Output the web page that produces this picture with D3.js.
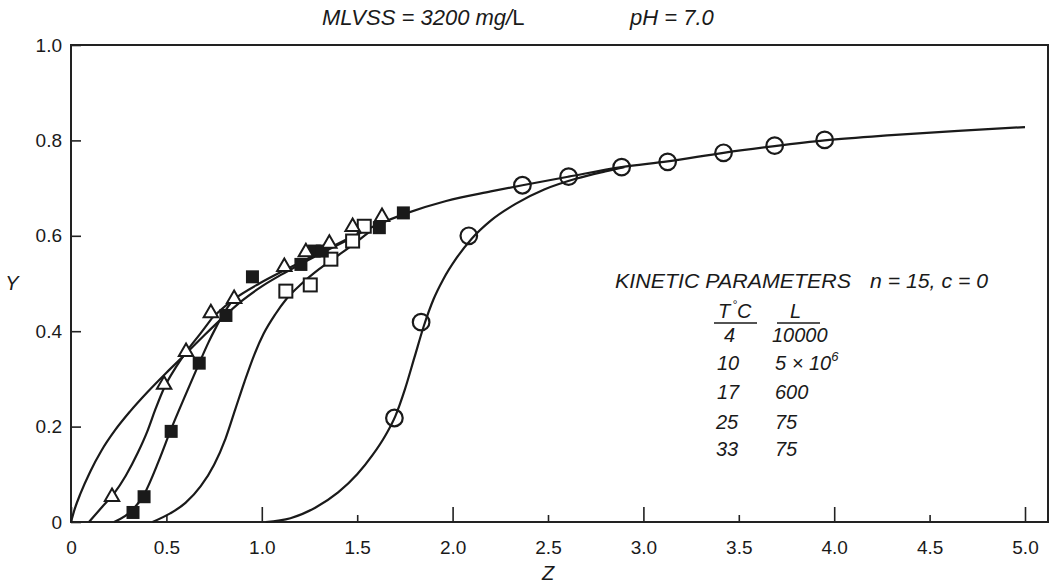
<!DOCTYPE html>
<html><head><meta charset="utf-8">
<script src="https://cdn.jsdelivr.net/npm/d3@7"></script>
<style>
body{margin:0;background:#fff}
svg{display:block;font-family:"Liberation Sans",Arial,Helvetica,sans-serif}
</style>
</head><body>
<svg id="c" width="1056" height="584"></svg>
<script>
// ---- data ----
const xTickValues = [0, 0.5, 1.0, 1.5, 2.0, 2.5, 3.0, 3.5, 4.0, 4.5, 5.0];
const xTickLabels = ["0", "0.5", "1.0", "1.5", "2.0", "2.5", "3.0", "3.5", "4.0", "4.5", "5.0"];
const yTickValues = [0, 0.2, 0.4, 0.6, 0.8, 1.0];
const yTickLabels = ["0", "0.2", "0.4", "0.6", "0.8", "1.0"];

// measured points [Z, Y]
const circles = [[1.695,0.218],[1.835,0.419],[2.085,0.600],[2.366,0.706],[2.608,0.724],[2.886,0.744],[3.127,0.755],[3.420,0.774],[3.688,0.789],[3.950,0.801]];
const openSquares = [[1.126,0.484],[1.254,0.497],[1.362,0.551],[1.476,0.589],[1.537,0.620]];
const filledSquares = [[0.325,0.020],[0.383,0.053],[0.525,0.190],[0.672,0.333],[0.812,0.433],[0.951,0.514],[1.205,0.540],[1.275,0.568],[1.317,0.568],[1.616,0.617],[1.742,0.648]];
const triangles = [[0.215,0.055],[0.488,0.290],[0.603,0.359],[0.733,0.440],[0.855,0.470],[1.118,0.537],[1.231,0.568],[1.354,0.586],[1.476,0.621],[1.630,0.642]];

// fitted curves [Z, Y]
const curveUpper = [[0.74,0.428],[0.85,0.466],[0.987,0.500],[1.10,0.524],[1.196,0.543],[1.33,0.570],[1.459,0.595],[1.60,0.622],[1.756,0.647],[1.966,0.673],[2.20,0.693],[2.366,0.706],[2.608,0.724],[2.886,0.744],[3.127,0.756],[3.420,0.774],[3.688,0.788],[3.950,0.800],[4.30,0.811],[4.65,0.820],[5.00,0.828]];
const curveA = [[0,0],[0.02,0.028],[0.05,0.060],[0.10,0.105],[0.16,0.150],[0.23,0.192],[0.31,0.232],[0.40,0.272],[0.50,0.313],[0.60,0.352],[0.70,0.392],[0.80,0.430],[0.90,0.465],[1.00,0.494],[1.10,0.518],[1.20,0.540],[1.35,0.571],[1.50,0.601]];
const curveB = [[0.094,0],[0.164,0.032],[0.226,0.060],[0.287,0.097],[0.35,0.145],[0.40,0.190],[0.444,0.238],[0.488,0.281],[0.549,0.324],[0.61,0.360],[0.68,0.396],[0.74,0.428]];
const curveC = [[0.226,0],[0.322,0.025],[0.383,0.058],[0.46,0.128],[0.523,0.193],[0.602,0.268],[0.672,0.333],[0.72,0.376],[0.76,0.408],[0.80,0.437],[0.85,0.466]];
const curveD = [[0.427,0],[0.52,0.018],[0.60,0.040],[0.68,0.075],[0.75,0.120],[0.81,0.175],[0.86,0.235],[0.91,0.295],[0.96,0.350],[1.01,0.395],[1.07,0.435],[1.13,0.468],[1.21,0.500],[1.30,0.530],[1.39,0.556],[1.48,0.582],[1.56,0.607]];
const curveE = [[1.02,0],[1.15,0.008],[1.28,0.030],[1.40,0.062],[1.50,0.100],[1.58,0.140],[1.65,0.183],[1.70,0.222],[1.75,0.278],[1.80,0.345],[1.85,0.412],[1.90,0.467],[1.95,0.508],[2.02,0.553],[2.10,0.594],[2.20,0.632],[2.33,0.667],[2.48,0.697],[2.65,0.720],[2.80,0.735],[2.90,0.744]];

const paramTemps = ["4", "10", "17", "25", "33"];
const paramL = ["10000", "5 \u00d7 10", "600", "75", "75"];

// ---- drawing ----
const svg = d3.select("#c");
const x = d3.scaleLinear().domain([0, 5]).range([71, 1025]);
const y = d3.scaleLinear().domain([0, 1]).range([522, 45]);
const ink = "#1a1a1a";

// frame
svg.append("rect").attr("x", 71).attr("y", 45).attr("width", 1048 - 71).attr("height", 522 - 45)
  .attr("fill", "none").attr("stroke", "#222").attr("stroke-width", 2);

// x axis
const gx = svg.append("g").attr("transform", "translate(0,522)")
  .call(d3.axisBottom(x).tickValues(xTickValues).tickFormat((d, i) => xTickLabels[i]).tickSize(-15).tickPadding(19));
gx.select(".domain").remove();
gx.selectAll(".tick line").attr("stroke", "#222").attr("stroke-width", 1.6)
  .attr("y2", d => (Math.abs(d - Math.round(d)) < 1e-9 ? -15 : -7));
gx.selectAll(".tick text").attr("font-size", 19).attr("fill", ink).attr("font-family", "Liberation Sans, Arial, sans-serif");

// y axis
const gy = svg.append("g").attr("transform", "translate(71,0)")
  .call(d3.axisLeft(y).tickValues(yTickValues).tickFormat((d, i) => yTickLabels[i]).tickSize(-10).tickPadding(9));
gy.select(".domain").remove();
gy.selectAll(".tick line").attr("stroke", "#222").attr("stroke-width", 1.6);
gy.selectAll(".tick text").attr("font-size", 19).attr("fill", ink).attr("font-family", "Liberation Sans, Arial, sans-serif");

// curves
const line = d3.line().x(d => x(d[0])).y(d => y(d[1])).curve(d3.curveMonotoneX);
[curveA, curveB, curveC, curveD, curveE, curveUpper].forEach(c => {
  svg.append("path").attr("d", line(c)).attr("fill", "none").attr("stroke", ink).attr("stroke-width", 2.2);
});

// markers
svg.append("g").selectAll("circle").data(circles).join("circle")
  .attr("cx", d => x(d[0])).attr("cy", d => y(d[1])).attr("r", 8.3)
  .attr("fill", "none").attr("stroke", ink).attr("stroke-width", 2.2);
const sq = 13;
svg.append("g").selectAll("rect").data(openSquares).join("rect")
  .attr("x", d => x(d[0]) - sq / 2).attr("y", d => y(d[1]) - sq / 2).attr("width", sq).attr("height", sq)
  .attr("fill", "#fff").attr("stroke", ink).attr("stroke-width", 2);
svg.append("g").selectAll("rect").data(filledSquares).join("rect")
  .attr("x", d => x(d[0]) - sq / 2).attr("y", d => y(d[1]) - sq / 2).attr("width", sq).attr("height", sq)
  .attr("fill", ink);
const tri = d3.symbol().type(d3.symbolTriangle).size(90);
svg.append("g").selectAll("path").data(triangles).join("path")
  .attr("d", tri).attr("transform", d => `translate(${x(d[0])},${y(d[1]) + 1})`)
  .attr("fill", "#fff").attr("stroke", ink).attr("stroke-width", 2);

// titles and labels
const t = svg.append("g").attr("fill", ink).attr("font-style", "italic");
const t1 = t.append("text").attr("x", 322).attr("y", 25).attr("font-size", 22);
t1.append("tspan").text("MLVSS = 3200 mg/");
t1.append("tspan").attr("font-style", "normal").text("L");
t.append("text").attr("x", 630).attr("y", 25).attr("font-size", 22).text("pH = 7.0");
t.append("text").attr("x", 12).attr("y", 290).attr("font-size", 20).attr("text-anchor", "middle").text("Y");
t.append("text").attr("x", 548).attr("y", 580).attr("font-size", 20).attr("text-anchor", "middle").text("Z");

// kinetic parameter block
const k = svg.append("g").attr("fill", ink).attr("font-style", "italic").attr("font-size", 20);
k.append("text").attr("x", 615).attr("y", 288).attr("textLength", 236).attr("lengthAdjust", "spacingAndGlyphs").text("KINETIC PARAMETERS");
k.append("text").attr("x", 870).attr("y", 288).attr("textLength", 118).attr("lengthAdjust", "spacingAndGlyphs").text("n = 15, c = 0");
const th = k.append("text").attr("x", 718).attr("y", 318);
th.append("tspan").text("T");
th.append("tspan").attr("font-size", 12).attr("dy", -9).attr("dx", 2).text("\u00b0");
th.append("tspan").attr("dy", 9).text("C");
k.append("text").attr("x", 790).attr("y", 318).text("L");
k.append("line").attr("x1", 714).attr("x2", 757).attr("y1", 323).attr("y2", 323).attr("stroke", ink).attr("stroke-width", 1.5);
k.append("line").attr("x1", 777).attr("x2", 820).attr("y1", 323).attr("y2", 323).attr("stroke", ink).attr("stroke-width", 1.5);
const rowY = [342, 370, 399, 429, 456];
const colX = [724, 717, 717, 716, 716];
paramTemps.forEach((v, i) => k.append("text").attr("x", colX[i]).attr("y", rowY[i]).text(v));
paramL.forEach((v, i) => {
  const tx = k.append("text").attr("x", i === 0 ? 772 : 775).attr("y", rowY[i]).text(v);
  if (i === 1) tx.append("tspan").attr("font-size", 13).attr("dy", -9).text("6");
});
</script>
</body></html>
